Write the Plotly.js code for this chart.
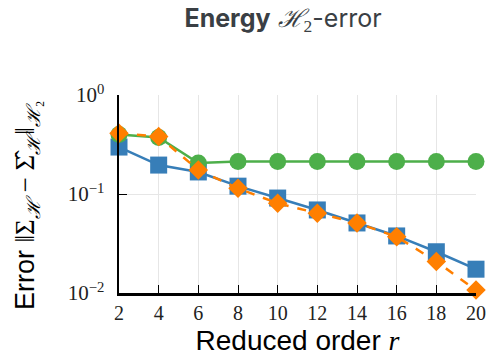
<!DOCTYPE html>
<html><head><meta charset="utf-8">
<script src="https://cdn.plot.ly/plotly-3.0.1.min.js"></script>
<style>body{margin:0;padding:0;background:#fff}#chart{width:488px;height:357px}</style>
</head><body><div id="chart"></div>
<script>
const r = [2,4,6,8,10,12,14,16,18,20];
const blueVals   = [0.298,0.196,0.167,0.120,0.091,0.069,0.051,0.0377,0.0261,0.0174];
const greenVals  = [0.400,0.372,0.206,0.213,0.213,0.213,0.213,0.213,0.213,0.213];
const orangeVals = [0.410,0.380,0.175,0.114,0.0805,0.0638,0.051,0.037,0.0208,0.0107];
const xTicks = [2,4,6,8,10,12,14,16,18,20];
const yTickVals = [0.01,0.1,1];
const yTickText = ['10<sup>−2</sup>','10<sup>−1</sup>','10<sup>0</sup>'];

const blue='#377eb8', green='#4daf4a', orange='#ff7f00';
const serif = 'Liberation Serif';
const traces = [
  {x:r, y:blueVals, mode:'lines+markers', line:{color:blue,width:2.5},
   marker:{symbol:'square',size:17,color:blue}, cliponaxis:false},
  {x:r, y:greenVals, mode:'lines+markers', line:{color:green,width:2.5},
   marker:{symbol:'circle',size:17,color:green}, cliponaxis:false},
  {x:r, y:orangeVals, mode:'lines+markers', line:{color:orange,width:2.5,dash:'dash'},
   marker:{symbol:'diamond',size:15,color:orange}, cliponaxis:false}
];
const S = s => '<span style="font-family:\'Liberation Serif\'">'+s+'</span>';
const layout = {
  width:488, height:357,
  margin:{l:119,r:12,t:95,b:64},
  showlegend:false,
  paper_bgcolor:'#fff', plot_bgcolor:'#fff',
  title:{text:'<b>Energy</b> '+S('<i>ℋ</i><sub>2</sub>')+'-error', x:0.58, xanchor:'center', y:0.95, yanchor:'middle',
         font:{family:'Inter', size:25, color:'#3a3f44'}},
  xaxis:{range:[2,20], tickvals:xTicks, ticktext:xTicks.map(String),
    showline:true, linecolor:'#000', linewidth:2.5, ticks:'inside', ticklen:8, tickwidth:1, tickcolor:'#000',
    showgrid:true, gridcolor:'#e6e6e6', gridwidth:1, zeroline:false,
    tickfont:{family:serif, size:20, color:'#222'},
    title:{text:'Reduced order '+S('<i>r</i>'), standoff:8, font:{family:'Liberation Sans', size:28, color:'#000'}}},
  yaxis:{type:'log', range:[-2,0], tickvals:yTickVals, ticktext:yTickText,
    showline:true, linecolor:'#000', linewidth:2.5, ticks:'inside', ticklen:8, tickwidth:1, tickcolor:'#000',
    showgrid:true, gridcolor:'#e6e6e6', gridwidth:1, zeroline:false, ticklabelstandoff:8,
    tickfont:{family:serif, size:21, color:'#222'}},
  annotations:[{text:'Error '+S('‖Σ<sub><i>ℋ</i></sub> − Σ̂<sub><i>ℋ</i></sub>‖<sub><i>ℋ</i>₂</sub>'),
    xref:'paper', yref:'paper', x:(27-119)/357, y:(293-206)/198, xanchor:'center', yanchor:'middle',
    textangle:-90, showarrow:false, font:{family:'Liberation Sans', size:27, color:'#000'}}]
};
Plotly.newPlot('chart', traces, layout, {displayModeBar:false, staticPlot:true});
</script></body></html>
